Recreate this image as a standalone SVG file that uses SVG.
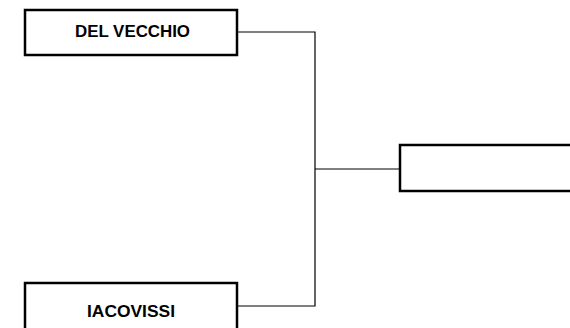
<svg xmlns="http://www.w3.org/2000/svg" width="570" height="328" viewBox="0 0 570 328">
<style>
.box{fill:#fff;stroke:#000;stroke-width:2.5}
.lbl{font-family:"Liberation Sans",Arial,sans-serif;font-weight:bold;font-size:16px;fill:#000;text-anchor:middle}
.con{fill:none;stroke:#000;stroke-width:1.2}
</style>
<rect width="570" height="328" fill="#fff"/>
<g id="connectors">
<polyline class="con" points="237,32 315,32 315,306 237,306"/>
<line class="con" x1="315" y1="169" x2="400" y2="169"/>
</g>
<g id="node-delvecchio">
<rect class="box" x="25" y="10" width="212" height="45"/>
<text class="lbl" x="132.5" y="37" textLength="115" lengthAdjust="spacingAndGlyphs">DEL VECCHIO</text>
</g>
<g id="node-iacovissi">
<rect class="box" x="25" y="283" width="212" height="60"/>
<text class="lbl" x="131" y="317" textLength="88" lengthAdjust="spacingAndGlyphs">IACOVISSI</text>
</g>
<g id="node-winner">
<rect class="box" x="400" y="145" width="190" height="46"/>
</g>
</svg>
